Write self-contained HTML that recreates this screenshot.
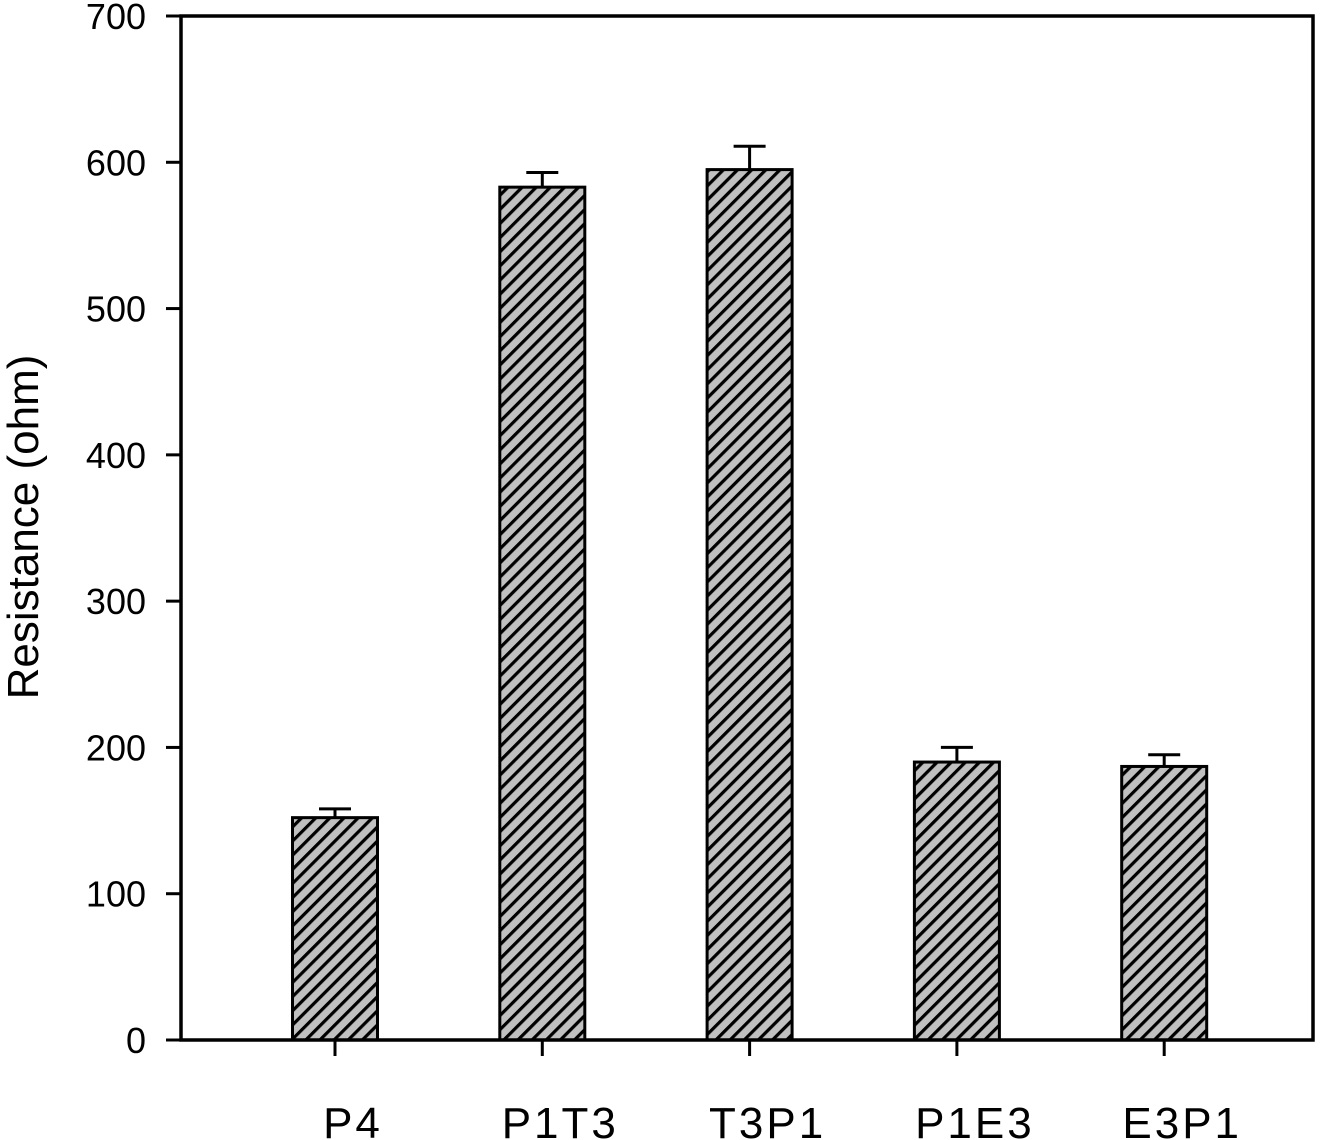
<!DOCTYPE html>
<html><head><meta charset="utf-8"><style>
html,body{margin:0;padding:0;background:#fff;}
svg{display:block;font-family:"Liberation Sans",sans-serif;}
</style></head><body>
<svg id="chart" width="1323" height="1140">
<defs>
<pattern id="hatch" patternUnits="userSpaceOnUse" width="10" height="10" patternTransform="rotate(45)">
<rect width="10" height="10" fill="#c0c0c0"/>
<rect x="0" y="0" width="3.2" height="10" fill="#000"/>
</pattern>
</defs>
<g id="bars"></g>
<rect x="181" y="16" width="1132" height="1024" fill="none" stroke="#000" stroke-width="3.5"/>
<g id="axes"></g>
<text x="38" y="527" font-size="44" text-anchor="middle" transform="rotate(-90 38 527)">Resistance (ohm)</text>
</svg>
<script>
const categories = ["P4","P1T3","T3P1","P1E3","E3P1"];
const values = [152, 583, 595, 190, 187];
const errors = [6, 10, 16, 10, 8];
const yTicks = [0,100,200,300,400,500,600,700];

const ns = "http://www.w3.org/2000/svg";
const y = v => 1040 - v * (1024/700);
const x = i => 335 + i * 207.3;
const bw = 85;
function mk(tag, attrs, parent){const e=document.createElementNS(ns,tag);for(const k in attrs)e.setAttribute(k,attrs[k]);parent.appendChild(e);return e;}
const bars = document.getElementById("bars");
const axes = document.getElementById("axes");
categories.forEach((c,i)=>{
  const cx = x(i);
  const top = y(values[i] + errors[i]);
  const eb = mk("line",{x1:cx,x2:cx,y1:top,y2:y(values[i]),stroke:"#000","stroke-width":3},bars);
  
  
  const cap = mk("line",{x1:cx-16,x2:cx+16,y1:top,y2:top,stroke:"#000","stroke-width":3},bars);
  
  
  const r = mk("rect",{x:cx-bw/2,y:y(values[i]),width:bw,height:1040-y(values[i]),fill:"url(#hatch)",stroke:"#000","stroke-width":3},bars);
  
  
  const t = mk("line",{x1:cx,x2:cx,y1:1040,y2:1056,stroke:"#000","stroke-width":3},axes);
  
  
  const l = mk("text",{x:cx+18,y:1138,"font-size":44,"text-anchor":"middle","letter-spacing":"3"},axes);
  l.textContent = c;
  
  
});
yTicks.forEach(v=>{
  const t = mk("line",{x1:166,x2:181,y1:y(v),y2:y(v),stroke:"#000","stroke-width":3},axes);
  
  
  const l = mk("text",{x:146,y:y(v)+13,"font-size":36,"text-anchor":"end"},axes);
  l.textContent = v;
  
  
});
</script>
</body></html>
